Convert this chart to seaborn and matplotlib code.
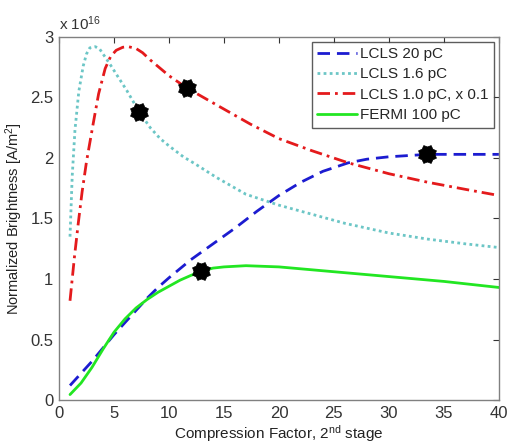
import numpy as np
import pandas as pd
import matplotlib
matplotlib.use("Agg")
import matplotlib.pyplot as plt
from matplotlib.path import Path
import seaborn as sns

# ---- data (y in units of 1e16 A/m^2) ----
lcls20_x = [1, 2, 3, 4, 5, 6, 7, 8, 9, 10, 12, 14, 16, 18, 20, 22, 24, 26.3, 28, 30, 33.5, 36, 40]
lcls20_y = [0.12, 0.22, 0.32, 0.43, 0.54, 0.64, 0.74, 0.84, 0.93, 1.01, 1.16, 1.29, 1.42, 1.56, 1.69, 1.80, 1.89, 1.96, 1.99, 2.01, 2.03, 2.03, 2.03]

lcls16_x = [1, 1.2, 1.45, 1.8, 2.2, 2.5, 2.8, 3.3, 3.7, 4, 4.6, 5.3, 6.15, 7.3, 8.3, 9.2, 10, 11.3, 12.4, 14.3, 17, 20, 22.4, 26, 30, 33.5, 37, 40]
lcls16_y = [1.35, 1.85, 2.23, 2.55, 2.76, 2.86, 2.91, 2.92, 2.9, 2.86, 2.78, 2.68, 2.56, 2.38, 2.25, 2.16, 2.1, 2.01, 1.95, 1.84, 1.70, 1.61, 1.55, 1.46, 1.38, 1.33, 1.29, 1.26]

lcls10_x = [1, 1.4, 1.75, 2.1, 2.5, 3.1, 3.6, 4.2, 4.7, 5.2, 5.8, 6.3, 7, 7.6, 8.3, 10, 11.6, 14.3, 17.4, 20, 23, 26.3, 30, 33.5, 37, 40]
lcls10_y = [0.82, 1.18, 1.46, 1.72, 1.97, 2.28, 2.53, 2.74, 2.84, 2.89, 2.915, 2.92, 2.905, 2.87, 2.81, 2.68, 2.58, 2.44, 2.28, 2.16, 2.06, 1.96, 1.87, 1.80, 1.74, 1.69]

fermi_x = [1, 2, 3, 4, 5, 6, 7, 8, 9, 10, 11, 12, 13, 14, 15, 17, 20, 25, 30, 35, 40]
fermi_y = [0.045, 0.14, 0.27, 0.42, 0.56, 0.67, 0.76, 0.83, 0.89, 0.94, 0.99, 1.03, 1.065, 1.09, 1.10, 1.11, 1.10, 1.06, 1.02, 0.98, 0.93]

star_x = [33.5, 7.3, 11.6, 12.9]
star_y = [2.03, 2.38, 2.58, 1.065]

labels = ["LCLS 20 pC", "LCLS 1.6 pC", "LCLS 1.0 pC, x 0.1", "FERMI 100 pC"]
x_ticks = [0, 5, 10, 15, 20, 25, 30, 35, 40]
y_ticks = [0, 0.5, 1, 1.5, 2, 2.5, 3]
y_ticklabels = ["0", "0.5", "1", "1.5", "2", "2.5", "3"]

sns.set_style("white")
plt.rcParams["font.family"] = ["Liberation Sans", "DejaVu Sans"]
plt.rcParams["mathtext.fontset"] = "custom"
plt.rcParams["mathtext.rm"] = "Liberation Sans"
plt.rcParams["mathtext.it"] = "Liberation Sans"

# blunt 8-point star marker
ang = np.linspace(0, 2 * np.pi, 17)[:-1] + np.pi / 8
rad = np.where(np.arange(16) % 2 == 0, 1.0, 0.78)
verts = np.column_stack([rad * np.cos(ang), rad * np.sin(ang)])
verts = np.vstack([verts, verts[:1]])
codes = [Path.MOVETO] + [Path.LINETO] * 15 + [Path.CLOSEPOLY]
star_marker = Path(verts, codes)

fig = plt.figure(figsize=(5.07, 4.45), dpi=100)
ax = fig.add_axes([0.1164, 0.1011, 0.8676, 0.8158])

series = [
    (lcls20_x, lcls20_y, labels[0], "#1c1cd0", (0, (4.5, 2.5))),
    (lcls16_x, lcls16_y, labels[1], "#6cc6c6", (0, (1, 1.2))),
    (lcls10_x, lcls10_y, labels[2], "#e41a1c", (0, (4.5, 1.8, 1, 1.8))),
    (fermi_x, fermi_y, labels[3], "#22e622", "-"),
]
for xs, ys, lab, col, ls in series:
    df = pd.DataFrame({"x": xs, "y": ys})
    sns.lineplot(data=df, x="x", y="y", ax=ax, color=col, linewidth=2.0,
                 linestyle=ls, label=lab, sort=False)

sdf = pd.DataFrame({"x": star_x, "y": star_y})
sns.scatterplot(data=sdf, x="x", y="y", ax=ax, color="black", marker=star_marker,
                s=165, edgecolor="black", linewidth=0.5, zorder=5, legend=False)

ax.set_xlim(0, 40)
ax.set_ylim(0, 3)
ax.set_xticks(x_ticks)
ax.set_yticks(y_ticks)
ax.set_yticklabels(y_ticklabels)
ax.tick_params(direction="in", length=4, labelsize=12, colors="#333333",
               top=True, right=True, labeltop=False, labelright=False, pad=4)
for sp in ax.spines.values():
    sp.set_color("#808080")
    sp.set_linewidth(1.0)

ax.set_xlabel("Compression Factor, 2$^{\\mathrm{nd}}$ stage", fontsize=11, color="#222222", labelpad=2)
ax.set_ylabel("Normalized Brightness [A/m$^{\\mathrm{2}}$]", fontsize=10.5, color="#222222", labelpad=4)
ax.text(0.0, 1.012, "x 10$^{\\mathrm{16}}$", transform=ax.transAxes, fontsize=11,
        color="#333333", ha="left", va="bottom")

leg = ax.legend(loc="upper right", fontsize=11, frameon=True, fancybox=False,
                borderaxespad=0.3, handlelength=2.6, handletextpad=0.25,
                labelspacing=0.42, borderpad=0.35)
leg.get_frame().set_edgecolor("#333333")
leg.get_frame().set_linewidth(1.0)

fig.savefig("out.png", dpi=100)
